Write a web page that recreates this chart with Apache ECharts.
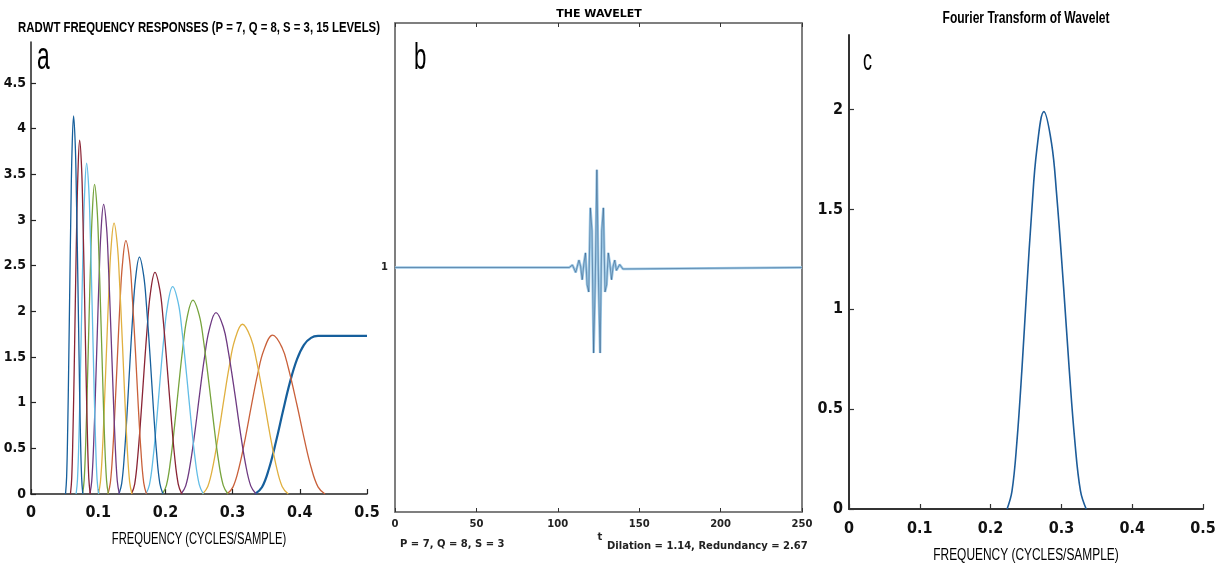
<!DOCTYPE html>
<html><head><meta charset="utf-8">
<script src="https://cdn.jsdelivr.net/npm/echarts@6/dist/echarts.min.js"></script>
<style>html,body{margin:0;padding:0;background:#fff}#c{width:1220px;height:570px}</style>
</head><body><div id="c"></div>
<script>
// ---------- tick labels ----------
const freqTicks = [0, 0.1, 0.2, 0.3, 0.4, 0.5];
const respTicks = [0, 0.5, 1, 1.5, 2, 2.5, 3, 3.5, 4, 4.5];
const ftTicks = [0, 0.5, 1, 1.5, 2];
const timeTicks = [0, 50, 100, 150, 200, 250];
const waveTicks = [1];

// ---------- panel a: frequency responses, [frequency, magnitude] ----------
const level1 = [[0.3333,0],[0.3437,0.073],[0.3541,0.277],[0.3646,0.574],[0.3750,0.909],[0.3854,1.225],[0.3958,1.474],[0.4062,1.634],[0.4167,1.710],[0.4271,1.731],[0.4375,1.732],[0.5,1.732]];
const level2 = [[0.2916,0],[0.3007,0.078],[0.3098,0.296],[0.3190,0.615],[0.3281,0.972],[0.3372,1.309],[0.3463,1.572],[0.3596,1.739],[0.3737,1.602],[0.3828,1.385],[0.3959,0.972],[0.4063,0.615],[0.4167,0.296],[0.4271,0.078],[0.4375,0]];
const level3 = [[0.2552,0],[0.2631,0.083],[0.2711,0.317],[0.2791,0.657],[0.2871,1.039],[0.2951,1.400],[0.3030,1.681],[0.3147,1.859],[0.3270,1.712],[0.3350,1.481],[0.3464,1.039],[0.3555,0.657],[0.3646,0.317],[0.3737,0.083],[0.3828,0]];
const level4 = [[0.2233,0],[0.2302,0.089],[0.2372,0.339],[0.2443,0.703],[0.2512,1.111],[0.2582,1.496],[0.2652,1.797],[0.2753,1.987],[0.2861,1.831],[0.2931,1.583],[0.3031,1.111],[0.3110,0.703],[0.3190,0.339],[0.3270,0.089],[0.3350,0]];
const level5 = [[0.1954,0],[0.2015,0.095],[0.2076,0.362],[0.2137,0.751],[0.2198,1.188],[0.2259,1.599],[0.2320,1.921],[0.2409,2.124],[0.2504,1.957],[0.2565,1.692],[0.2652,1.188],[0.2722,0.751],[0.2791,0.362],[0.2861,0.095],[0.2931,0]];
const level6 = [[0.1710,0],[0.1763,0.102],[0.1816,0.387],[0.1870,0.803],[0.1923,1.270],[0.1977,1.710],[0.2030,2.053],[0.2108,2.271],[0.2191,2.092],[0.2244,1.809],[0.2320,1.270],[0.2381,0.803],[0.2442,0.387],[0.2504,0.102],[0.2565,0]];
const level7 = [[0.1496,0],[0.1543,0.109],[0.1589,0.414],[0.1636,0.858],[0.1683,1.357],[0.1730,1.828],[0.1776,2.195],[0.1845,2.428],[0.1917,2.237],[0.1964,1.934],[0.2030,1.357],[0.2084,0.858],[0.2137,0.414],[0.2191,0.109],[0.2244,0]];
const level8 = [[0.1309,0],[0.1350,0.116],[0.1391,0.442],[0.1432,0.918],[0.1473,1.451],[0.1514,1.954],[0.1554,2.347],[0.1614,2.595],[0.1677,2.391],[0.1718,2.068],[0.1777,1.451],[0.1823,0.918],[0.1870,0.442],[0.1917,0.116],[0.1964,0]];
const level9 = [[0.1145,0],[0.1181,0.124],[0.1217,0.473],[0.1253,0.981],[0.1289,1.551],[0.1324,2.089],[0.1360,2.509],[0.1412,2.775],[0.1468,2.556],[0.1503,2.210],[0.1555,1.551],[0.1595,0.981],[0.1636,0.473],[0.1677,0.124],[0.1718,0]];
const level10 = [[0.1002,0],[0.1033,0.133],[0.1065,0.505],[0.1096,1.049],[0.1128,1.658],[0.1159,2.233],[0.1190,2.682],[0.1236,2.966],[0.1284,2.732],[0.1315,2.363],[0.1360,1.658],[0.1396,1.049],[0.1432,0.505],[0.1468,0.133],[0.1503,0]];
const level11 = [[0.0877,0],[0.0904,0.142],[0.0932,0.540],[0.0959,1.121],[0.0987,1.773],[0.1014,2.388],[0.1041,2.867],[0.1081,3.171],[0.1124,2.921],[0.1151,2.526],[0.1190,1.773],[0.1222,1.121],[0.1253,0.540],[0.1284,0.142],[0.1315,0]];
const level12 = [[0.0767,0],[0.0791,0.152],[0.0815,0.578],[0.0839,1.199],[0.0863,1.895],[0.0887,2.552],[0.0911,3.065],[0.0946,3.390],[0.0983,3.123],[0.1007,2.700],[0.1041,1.895],[0.1069,1.199],[0.1096,0.578],[0.1124,0.152],[0.1151,0]];
const level13 = [[0.0671,0],[0.0692,0.162],[0.0713,0.618],[0.0734,1.281],[0.0755,2.026],[0.0776,2.729],[0.0797,3.277],[0.0828,3.624],[0.0860,3.339],[0.0881,2.887],[0.0911,2.026],[0.0935,1.281],[0.0959,0.618],[0.0983,0.162],[0.1007,0]];
const level14 = [[0.0587,0],[0.0606,0.173],[0.0624,0.660],[0.0643,1.370],[0.0661,2.166],[0.0679,2.917],[0.0698,3.503],[0.0724,3.874],[0.0753,3.569],[0.0771,3.086],[0.0797,2.166],[0.0818,1.370],[0.0839,0.660],[0.0860,0.173],[0.0881,0]];
const level15 = [[0.0514,0],[0.0530,0.185],[0.0546,0.706],[0.0562,1.464],[0.0578,2.316],[0.0594,3.119],[0.0610,3.745],[0.0634,4.142],[0.0659,3.815],[0.0675,3.299],[0.0698,2.316],[0.0716,1.464],[0.0734,0.706],[0.0753,0.185],[0.0771,0]];
const levels = [level1, level2, level3, level4, level5, level6, level7, level8, level9, level10, level11, level12, level13, level14, level15];
const levelColors = ['#165f9c','#c9603a','#e0b040','#6e3a82','#76a33c','#62bde6','#8a2435','#165f9c','#c9603a','#e0b040','#6e3a82','#76a33c','#62bde6','#8a2435','#165f9c'];

// ---------- panel b: the wavelet, [t, value] ----------
const wavelet = [[0,1],[107,1],[108,0.994],[109,1.01],[110,1.012],[111,0.98],[112,0.988],[113,1.03],[114,1.005],[115,0.95],[116,1.015],[117,1.06],[118,0.93],[119,0.90],[120,1.244],[121,1.15],[122,0.65],[123,0.94],[124,1.40],[125,0.94],[126,0.65],[127,1.15],[128,1.244],[129,0.90],[130,0.93],[131,1.06],[132,1.015],[133,0.95],[134,1.005],[135,1.03],[136,0.988],[137,0.98],[138,1.012],[139,1.01],[140,0.994],[141,1],[250,1]];

// ---------- panel c: Fourier transform of wavelet, [frequency, magnitude] ----------
const waveletFT = [[0.2233,0],[0.2302,0.089],[0.2372,0.339],[0.2443,0.703],[0.2512,1.111],[0.2582,1.496],[0.2652,1.797],[0.2753,1.990],[0.2861,1.831],[0.2931,1.583],[0.3031,1.111],[0.3110,0.703],[0.3190,0.339],[0.3270,0.089],[0.3350,0]];

// ---------- texts ----------
const titleA = 'RADWT FREQUENCY RESPONSES (P = 7, Q = 8, S = 3, 15 LEVELS)';
const titleB = 'THE WAVELET';
const titleC = 'Fourier Transform of Wavelet';
const freqName = 'FREQUENCY (CYCLES/SAMPLE)';
const noteLeft = 'P = 7, Q = 8, S = 3';
const noteRight = 'Dilation = 1.14, Redundancy = 2.67';

const narrow = '"Liberation Sans Narrow","DejaVu Sans Condensed","Liberation Sans",sans-serif';
const dv = '"DejaVu Sans",sans-serif';

function txt(text, x, y, font, align, sx, fill) {
  return {type: 'text', x: x, y: y, scaleX: sx || 1, z: 100,
    style: {text: text, font: font, fill: fill || '#000', textAlign: align, textVerticalAlign: 'middle'}};
}

const chart = echarts.init(document.getElementById('c'), null, {renderer: 'canvas'});

const seriesA = levels.map((d, i) => ({
  type: 'line', xAxisIndex: 0, yAxisIndex: 0, data: d, showSymbol: false, smooth: 0.4,
  lineStyle: {color: levelColors[i], width: i === 0 ? 2.2 : 1.3}, itemStyle: {color: levelColors[i]},
  silent: true, z: 2 + i
}));

const option = {
  animation: false,
  backgroundColor: '#fff',
  grid: [
    {left: 31, right: 853, top: 42, bottom: 76, outerBoundsMode: 'none'},
    {left: 395, right: 418, top: 23, bottom: 58, show: true, borderColor: '#777', borderWidth: 1.5, outerBoundsMode: 'none'},
    {left: 849, right: 17, top: 35, bottom: 61, outerBoundsMode: 'none'}
  ],
  xAxis: [
    {gridIndex: 0, type: 'value', min: 0, max: 0.5, interval: 0.1,
     axisLine: {show: true, onZero: false, lineStyle: {color: '#222', width: 1.5}},
     axisTick: {show: true, inside: true, length: 5, customValues: freqTicks, lineStyle: {color: '#222', width: 1.2}},
     axisLabel: {customValues: freqTicks, color: '#111', fontFamily: narrow, fontSize: 16, fontWeight: 'bold', margin: 11},
     splitLine: {show: false}},
    {gridIndex: 1, type: 'value', min: 0, max: 250, interval: 50,
     axisLine: {show: true, onZero: false, lineStyle: {color: '#777', width: 1.5}},
     axisTick: {show: true, inside: true, length: 4, customValues: timeTicks, lineStyle: {color: '#333', width: 1}},
     axisLabel: {customValues: timeTicks, color: '#222', fontFamily: dv, fontSize: 10, fontWeight: 'bold', margin: 7},
     splitLine: {show: false}},
    {gridIndex: 1, type: 'value', position: 'top', min: 0, max: 250, interval: 50,
     axisLine: {show: true, onZero: false, lineStyle: {color: '#777', width: 1.5}},
     axisTick: {show: true, inside: true, length: 4, customValues: timeTicks, lineStyle: {color: '#333', width: 1}},
     axisLabel: {show: false}, splitLine: {show: false}},
    {gridIndex: 2, type: 'value', min: 0, max: 0.5, interval: 0.1,
     axisLine: {show: true, onZero: false, lineStyle: {color: '#333', width: 2}},
     axisTick: {show: true, inside: true, length: 5, customValues: freqTicks, lineStyle: {color: '#333', width: 1.2}},
     axisLabel: {customValues: freqTicks, color: '#111', fontFamily: narrow, fontSize: 16, fontWeight: 'bold', margin: 12},
     splitLine: {show: false}}
  ],
  yAxis: [
    {gridIndex: 0, type: 'value', min: 0, max: 4.95,
     axisLine: {show: true, onZero: false, lineStyle: {color: '#222', width: 1.5}},
     axisTick: {show: true, inside: true, length: 5, customValues: respTicks, lineStyle: {color: '#222', width: 1.2}},
     axisLabel: {customValues: respTicks, color: '#111', fontFamily: narrow, fontSize: 14, fontWeight: 'bold', margin: 5},
     splitLine: {show: false}},
    {gridIndex: 1, type: 'value', min: 0, max: 2,
     axisLine: {show: true, onZero: false, lineStyle: {color: '#777', width: 1.5}},
     axisTick: {show: true, inside: true, length: 4, customValues: waveTicks, lineStyle: {color: '#333', width: 1}},
     axisLabel: {customValues: waveTicks, color: '#222', fontFamily: dv, fontSize: 10, fontWeight: 'bold', margin: 7},
     splitLine: {show: false}},
    {gridIndex: 1, type: 'value', position: 'right', min: 0, max: 2,
     axisLine: {show: true, onZero: false, lineStyle: {color: '#777', width: 1.5}},
     axisTick: {show: true, inside: true, length: 4, customValues: waveTicks, lineStyle: {color: '#333', width: 1}},
     axisLabel: {show: false}, splitLine: {show: false}},
    {gridIndex: 2, type: 'value', min: 0, max: 2.374,
     axisLine: {show: true, onZero: false, lineStyle: {color: '#333', width: 2}},
     axisTick: {show: true, inside: true, length: 5, customValues: ftTicks, lineStyle: {color: '#333', width: 1.2}},
     axisLabel: {customValues: ftTicks, color: '#111', fontFamily: narrow, fontSize: 16, fontWeight: 'bold', margin: 6},
     splitLine: {show: false}}
  ],
  series: seriesA.concat([
    {type: 'line', xAxisIndex: 1, yAxisIndex: 1, data: wavelet, showSymbol: false,
     lineStyle: {color: '#9cc8e6', width: 2.6}, silent: true, z: 3},
    {type: 'line', xAxisIndex: 1, yAxisIndex: 1, data: wavelet, showSymbol: false,
     lineStyle: {color: '#123a66', width: 0.9, opacity: 0.45}, silent: true, z: 4},
    {type: 'line', xAxisIndex: 3, yAxisIndex: 3, data: waveletFT, showSymbol: false, smooth: 0.4,
     lineStyle: {color: '#1d5c99', width: 1.6}, silent: true, z: 3}
  ]),
  graphic: [
    txt(titleA, 199, 28, 'bold 15px "Liberation Sans"', 'center', 0.757),
    txt('a', 37, 59, 'normal 38px "Liberation Sans"', 'left', 0.6),
    txt(freqName, 199, 540, 'normal 16px "Liberation Sans"', 'center', 0.70),
    txt(titleB, 599, 14, 'bold 11px ' + dv, 'center', 1),
    txt('b', 414, 59, 'normal 37px "Liberation Sans"', 'left', 0.6),
    txt(noteLeft, 400, 544, 'bold 10px ' + dv, 'left', 1, '#222'),
    txt('t', 600, 537, 'bold 10px ' + dv, 'center', 1, '#222'),
    txt(noteRight, 607, 546, 'bold 10px ' + dv, 'left', 1, '#222'),
    txt(titleC, 1026, 19, 'bold 16px "Liberation Sans"', 'center', 0.753),
    txt('c', 863, 62, 'normal 29px "Liberation Sans"', 'left', 0.62),
    txt(freqName, 1026, 556, 'normal 16px "Liberation Sans"', 'center', 0.745)
  ]
};
chart.setOption(option);
</script>
</body></html>
